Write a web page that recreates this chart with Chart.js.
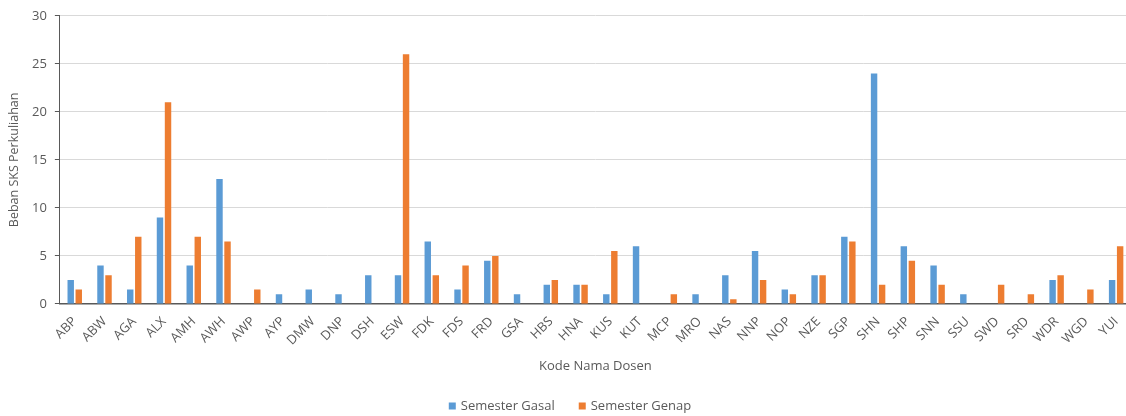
<!DOCTYPE html>
<html>
<head>
<meta charset="utf-8">
<script src="https://cdn.jsdelivr.net/npm/chart.js@4"></script>
<style>
  html, body { margin: 0; padding: 0; background: #fff; overflow: hidden; }
  #wrap { width: 1126px; height: 416px; overflow: hidden; }
</style>
</head>
<body>
<div id="wrap"><canvas id="c" width="1131" height="416"></canvas></div>
<script>
// Lecturer codes
const dosen = ["ABP","ABW","AGA","ALX","AMH","AWH","AWP","AYP","DMW","DNP","DSH","ESW","FDK","FDS","FRD","GSA","HBS","HNA","KUS","KUT","MCP","MRO","NAS","NNP","NOP","NZE","SGP","SHN","SHP","SNN","SSU","SWD","SRD","WDR","WGD","YUI"];
// Teaching load (SKS) per semester
const gasal = [2.5,4,1.5,9,4,13,0,1,1.5,1,3,3,6.5,1.5,4.5,1,2,2,1,6,0,1,3,5.5,1.5,3,7,24,6,4,1,0,0,2.5,0,2.5];
const genap = [1.5,3,7,21,7,6.5,1.5,0,0,0,0,26,3,4,5,0,2.5,2,5.5,0,1,0,0.5,2.5,1,3,6.5,2,4.5,2,0,2,1,3,1.5,6];
const yTicks = [0,5,10,15,20,25,30];

const FONT = "'Open Sans', 'Liberation Sans', sans-serif";
const GREY = "#595959";

// Legend drawn below the axis title with a wider gap between entries
const bottomLegend = {
  id: "bottomLegend",
  afterDraw(chart) {
    const ctx = chart.ctx;
    const box = 7, gapText = 5, gapItem = 24;
    ctx.save();
    ctx.font = "13px " + FONT;
    const items = chart.data.datasets.map(ds => ({
      text: ds.label, color: ds.backgroundColor, w: box + gapText + ctx.measureText(ds.label).width
    }));
    const total = items.reduce((s, it) => s + it.w, 0) + gapItem * (items.length - 1);
    let x = 570 - total / 2;
    const y = 406;
    ctx.textBaseline = "middle";
    ctx.textAlign = "left";
    items.forEach(it => {
      ctx.fillStyle = it.color;
      ctx.fillRect(x, y - box / 2, box, box);
      ctx.fillStyle = GREY;
      ctx.fillText(it.text, x + box + gapText, y);
      x += it.w + gapItem;
    });
    ctx.restore();
  }
};

new Chart(document.getElementById("c"), {
  type: "bar",
  data: {
    labels: dosen,
    datasets: [
      { label: "Semester Gasal", data: gasal, backgroundColor: "#5B9BD5", categoryPercentage: 0.54, barPercentage: 0.8 },
      { label: "Semester Genap", data: genap, backgroundColor: "#ED7D31", categoryPercentage: 0.54, barPercentage: 0.8 }
    ]
  },
  plugins: [bottomLegend],
  options: {
    responsive: false,
    animation: false,
    layout: { padding: { left: 2, right: 0, top: 6, bottom: 30 } },
    plugins: {
      legend: { display: false },
      tooltip: { enabled: false }
    },
    scales: {
      x: {
        afterFit: s => { s.paddingLeft = 0; s.paddingRight = 0; },
        grid: { display: false, drawTicks: false },
        border: { color: "#595959", width: 1.5 },
        ticks: { color: GREY, font: { family: FONT, size: 13 }, minRotation: 45, maxRotation: 45, autoSkip: false, padding: 10 },
        title: { display: true, text: "Kode Nama Dosen", color: GREY, font: { family: FONT, size: 13 }, padding: { top: 0, bottom: 12 } }
      },
      y: {
        min: 0, max: 30,
        afterBuildTicks: s => { s.ticks = yTicks.map(v => ({ value: v })); },
        grid: { color: "#d9d9d9", tickLength: 5, tickColor: "#595959" },
        border: { color: "#595959", width: 1 },
        ticks: { color: GREY, font: { family: FONT, size: 13 }, padding: 8 },
        title: { display: true, text: "Beban SKS Perkuliahan", color: GREY, font: { family: FONT, size: 12.5 }, padding: { top: 5, bottom: 2 } }
      }
    }
  }
});
</script>
</body>
</html>
